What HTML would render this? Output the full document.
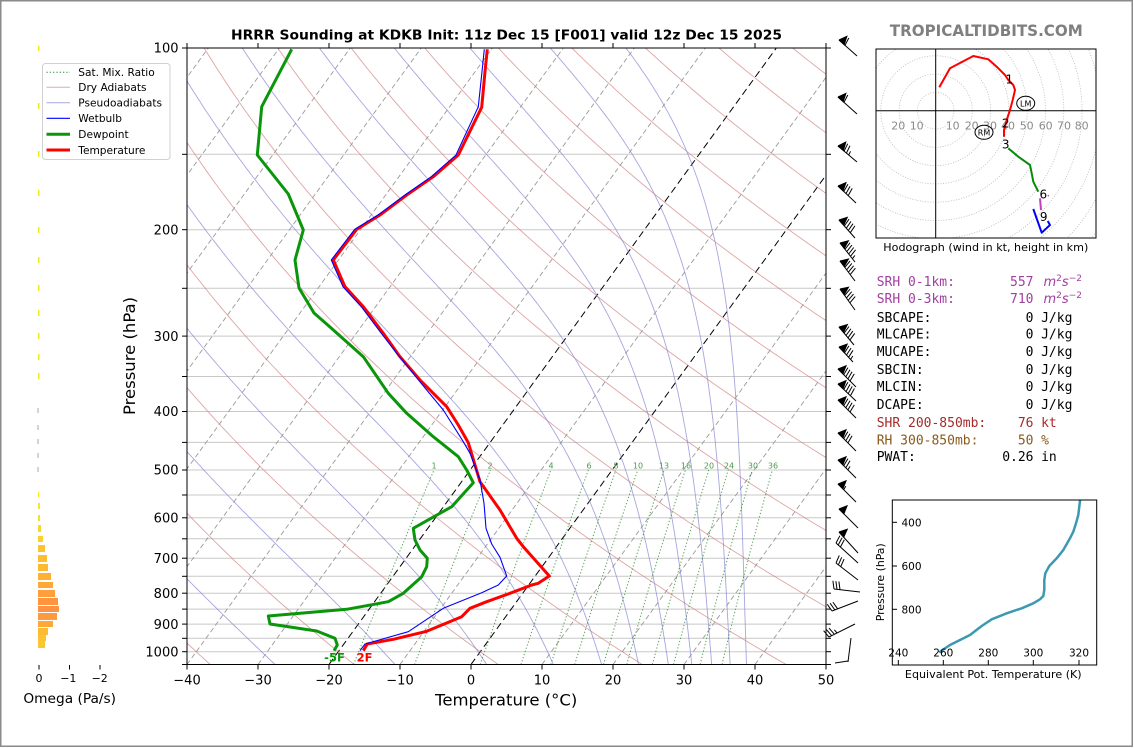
<!DOCTYPE html>
<html><head><meta charset="utf-8">
<style>
html,body{margin:0;padding:0;background:#fff;}
body{width:1134px;height:748px;overflow:hidden;}
svg{display:block;font-family:"DejaVu Sans","Liberation Sans",sans-serif;}
</style></head><body>
<svg id="root" width="1134" height="748" viewBox="0 0 1134 748" xmlns="http://www.w3.org/2000/svg">
<defs>
<clipPath id="cp"><rect x="187" y="48" width="639" height="616.5"/></clipPath>
<clipPath id="hc"><rect x="876" y="49" width="220" height="189"/></clipPath>
<clipPath id="tc"><rect x="892.3" y="500" width="204.4" height="165"/></clipPath>
</defs>
<rect x="0" y="0" width="1134" height="748" fill="#fff"/>
<rect x="0.75" y="0.75" width="1131.5" height="745.5" fill="none" stroke="#8a8a8a" stroke-width="1.5"/>

<!-- Title -->
<text x="506.5" y="39.5" text-anchor="middle" font-weight="bold" font-size="13" textLength="551" lengthAdjust="spacingAndGlyphs">HRRR Sounding at KDKB Init: 11z Dec 15 [F001] valid 12z Dec 15 2025</text>

<!-- Main plot background -->
<g clip-path="url(#cp)">
  <g stroke="#c8c8c8" stroke-width="1">
    <line x1="187" x2="826" y1="154.3" y2="154.3"/>
    <line x1="187" x2="826" y1="229.7" y2="229.7"/>
    <line x1="187" x2="826" y1="288.3" y2="288.3"/>
    <line x1="187" x2="826" y1="336.1" y2="336.1"/>
    <line x1="187" x2="826" y1="376.5" y2="376.5"/>
    <line x1="187" x2="826" y1="411.5" y2="411.5"/>
    <line x1="187" x2="826" y1="442.4" y2="442.4"/>
    <line x1="187" x2="826" y1="470" y2="470"/>
    <line x1="187" x2="826" y1="495" y2="495"/>
    <line x1="187" x2="826" y1="517.8" y2="517.8"/>
    <line x1="187" x2="826" y1="538.8" y2="538.8"/>
    <line x1="187" x2="826" y1="558.2" y2="558.2"/>
    <line x1="187" x2="826" y1="576.3" y2="576.3"/>
    <line x1="187" x2="826" y1="593.2" y2="593.2"/>
    <line x1="187" x2="826" y1="609.1" y2="609.1"/>
    <line x1="187" x2="826" y1="624.1" y2="624.1"/>
    <line x1="187" x2="826" y1="638.3" y2="638.3"/>
    <line x1="187" x2="826" y1="651.7" y2="651.7"/>
  </g>
  <g stroke="#9a9a9a" stroke-width="0.9" stroke-dasharray="5,3">
    <line x1="-239" y1="664.5" x2="208.3" y2="48"/>
    <line x1="-168" y1="664.5" x2="279.3" y2="48"/>
    <line x1="-97" y1="664.5" x2="350.3" y2="48"/>
    <line x1="-26" y1="664.5" x2="421.3" y2="48"/>
    <line x1="45" y1="664.5" x2="492.3" y2="48"/>
    <line x1="116" y1="664.5" x2="563.3" y2="48"/>
    <line x1="187" y1="664.5" x2="634.3" y2="48"/>
    <line x1="258" y1="664.5" x2="705.3" y2="48"/>
    <line x1="400" y1="664.5" x2="847.3" y2="48"/>
    <line x1="542" y1="664.5" x2="989.3" y2="48"/>
    <line x1="613" y1="664.5" x2="1060.3" y2="48"/>
    <line x1="684" y1="664.5" x2="1131.3" y2="48"/>
    <line x1="755" y1="664.5" x2="1202.3" y2="48"/>
  </g>
  <g stroke="#000" stroke-width="1" stroke-dasharray="7,4">
    <line x1="329" y1="664.5" x2="776.3" y2="48"/>
    <line x1="471" y1="664.5" x2="918.3" y2="48"/>
  </g>
  <g id="dry" fill="none" stroke="#d07f7f" stroke-opacity="0.7" stroke-width="0.9"></g>
  <g id="moist" fill="none" stroke="#8080d0" stroke-opacity="0.7" stroke-width="0.9"></g>
  <g id="mix" fill="none" stroke="#2e8b2e" stroke-opacity="0.8" stroke-width="1" stroke-dasharray="1.3,2"></g>

  <!-- Traces -->
  <polyline fill="none" stroke="#0a960a" stroke-width="3" stroke-linejoin="round" points="334,650.7 337.3,645 335,638.3 316.7,631 270,624 268.3,616 346.7,609.3 388.3,601.7 403.3,593.3 421.7,576.7 426.7,566.7 427.3,558.3 420,550 415,540 413.3,528.3 451.7,506.7 473.3,482.7 466.7,470 458.3,456.7 433.3,436.7 406.7,413.3 388.3,393.3 363.3,356.7 330,327 314,313 299,288 295,260 303.3,230 288.3,194 257.3,155 261.7,106.7 291.7,49.3"/>
  <polyline fill="none" stroke="#ff0000" stroke-width="3" stroke-linejoin="round" points="363.3,650.7 367.3,644 393.3,639.3 426.7,631.3 461.7,616.7 470,608.3 486.7,601.7 510,593.3 531.7,585 538.3,583.3 549.3,576 523.3,546.7 516.7,538.3 500,510 491.7,498.3 480,481.7 468.3,442.7 458.3,425 446.7,406.7 433.3,393.3 420,380 400,356.7 383.3,333.3 363.3,306.7 345,286.7 333.3,260 356.7,229.3 380,215 406.7,195 433.3,176.7 458.3,155 481.7,107.3 485,71.7 487.3,49.3"/>
  <polyline fill="none" stroke="#0000ff" stroke-width="1.1" stroke-linejoin="round" points="360,650.7 365,644 408.3,631.7 443.3,608.3 481.7,592.7 498.3,585 506.7,576 500,557.3 491.7,544 486,528.3 484,503.3 480,480 470,453.3 463.3,441.7 443.3,410 426.7,390 396.7,353.3 381.3,333.3 361.3,306.7 343,286.7 331.3,260 354.7,229.3 378,215 405,195 431.3,176.7 456,155 478.3,106.7 482,71.7 484.3,49.3"/>
</g>

<!-- Mixing ratio labels -->
<g font-size="8" fill="#4a9a4a" text-anchor="middle">
  <text x="434" y="468.5">1</text><text x="490" y="468.5">2</text><text x="551" y="468.5">4</text>
  <text x="589" y="468.5">6</text><text x="616" y="468.5">8</text><text x="638" y="468.5">10</text>
  <text x="664" y="468.5">13</text><text x="686" y="468.5">16</text><text x="709" y="468.5">20</text>
  <text x="729" y="468.5">24</text><text x="753" y="468.5">30</text><text x="773" y="468.5">36</text>
</g>

<!-- Surface labels -->
<text x="334.5" y="661.5" text-anchor="middle" font-size="11.5" font-weight="bold" fill="#0a960a">-5F</text>
<text x="364.5" y="661.5" text-anchor="middle" font-size="11.5" font-weight="bold" fill="#ff0000">2F</text>

<!-- Frame -->
<rect x="187" y="48" width="639" height="616.5" fill="none" stroke="#000" stroke-width="1"/>

<!-- Ticks -->
<g stroke="#000" stroke-width="1">
  <line x1="182" x2="187" y1="48" y2="48"/><line x1="182" x2="187" y1="154.3" y2="154.3"/><line x1="182" x2="187" y1="229.7" y2="229.7"/>
  <line x1="182" x2="187" y1="288.3" y2="288.3"/><line x1="182" x2="187" y1="336.1" y2="336.1"/><line x1="182" x2="187" y1="376.5" y2="376.5"/>
  <line x1="182" x2="187" y1="411.5" y2="411.5"/><line x1="182" x2="187" y1="442.4" y2="442.4"/><line x1="182" x2="187" y1="470" y2="470"/>
  <line x1="182" x2="187" y1="495" y2="495"/><line x1="182" x2="187" y1="517.8" y2="517.8"/><line x1="182" x2="187" y1="538.8" y2="538.8"/>
  <line x1="182" x2="187" y1="558.2" y2="558.2"/><line x1="182" x2="187" y1="576.3" y2="576.3"/><line x1="182" x2="187" y1="593.2" y2="593.2"/>
  <line x1="182" x2="187" y1="609.1" y2="609.1"/><line x1="182" x2="187" y1="624.1" y2="624.1"/><line x1="182" x2="187" y1="638.3" y2="638.3"/>
  <line x1="182" x2="187" y1="651.7" y2="651.7"/><line x1="182" x2="187" y1="664.5" y2="664.5"/>
  <line x1="826" x2="831" y1="48" y2="48"/><line x1="826" x2="831" y1="154.3" y2="154.3"/><line x1="826" x2="831" y1="229.7" y2="229.7"/>
  <line x1="826" x2="831" y1="288.3" y2="288.3"/><line x1="826" x2="831" y1="336.1" y2="336.1"/><line x1="826" x2="831" y1="376.5" y2="376.5"/>
  <line x1="826" x2="831" y1="411.5" y2="411.5"/><line x1="826" x2="831" y1="442.4" y2="442.4"/><line x1="826" x2="831" y1="470" y2="470"/>
  <line x1="826" x2="831" y1="495" y2="495"/><line x1="826" x2="831" y1="517.8" y2="517.8"/><line x1="826" x2="831" y1="538.8" y2="538.8"/>
  <line x1="826" x2="831" y1="558.2" y2="558.2"/><line x1="826" x2="831" y1="576.3" y2="576.3"/><line x1="826" x2="831" y1="593.2" y2="593.2"/>
  <line x1="826" x2="831" y1="609.1" y2="609.1"/><line x1="826" x2="831" y1="624.1" y2="624.1"/><line x1="826" x2="831" y1="638.3" y2="638.3"/>
  <line x1="826" x2="831" y1="651.7" y2="651.7"/><line x1="826" x2="831" y1="664.5" y2="664.5"/>
  <line x1="187" x2="187" y1="43" y2="48"/><line x1="258" x2="258" y1="43" y2="48"/><line x1="329" x2="329" y1="43" y2="48"/>
  <line x1="400" x2="400" y1="43" y2="48"/><line x1="471" x2="471" y1="43" y2="48"/><line x1="542" x2="542" y1="43" y2="48"/>
  <line x1="613" x2="613" y1="43" y2="48"/><line x1="684" x2="684" y1="43" y2="48"/><line x1="755" x2="755" y1="43" y2="48"/><line x1="826" x2="826" y1="43" y2="48"/>
  <line x1="187" x2="187" y1="664.5" y2="669.5"/><line x1="258" x2="258" y1="664.5" y2="669.5"/><line x1="329" x2="329" y1="664.5" y2="669.5"/>
  <line x1="400" x2="400" y1="664.5" y2="669.5"/><line x1="471" x2="471" y1="664.5" y2="669.5"/><line x1="542" x2="542" y1="664.5" y2="669.5"/>
  <line x1="613" x2="613" y1="664.5" y2="669.5"/><line x1="684" x2="684" y1="664.5" y2="669.5"/><line x1="755" x2="755" y1="664.5" y2="669.5"/><line x1="826" x2="826" y1="664.5" y2="669.5"/>
</g>

<!-- Y tick labels -->
<g font-size="13" text-anchor="end" fill="#000">
  <text x="178.5" y="52.7">100</text><text x="178.5" y="234.4">200</text><text x="178.5" y="340.8">300</text>
  <text x="178.5" y="416.2">400</text><text x="178.5" y="474.7">500</text><text x="178.5" y="522.5">600</text>
  <text x="178.5" y="562.9">700</text><text x="178.5" y="597.9">800</text><text x="178.5" y="628.8">900</text>
  <text x="178.5" y="656.4">1000</text>
</g>
<!-- X tick labels -->
<g font-size="13" text-anchor="middle" fill="#000">
  <text x="187" y="684.5">−40</text><text x="258" y="684.5">−30</text><text x="329" y="684.5">−20</text>
  <text x="400" y="684.5">−10</text><text x="471" y="684.5">0</text><text x="542" y="684.5">10</text>
  <text x="613" y="684.5">20</text><text x="684" y="684.5">30</text><text x="755" y="684.5">40</text><text x="826" y="684.5">50</text>
</g>
<text x="506.2" y="705.5" text-anchor="middle" font-size="16" textLength="142.3" lengthAdjust="spacingAndGlyphs">Temperature (°C)</text>
<text transform="translate(135,356) rotate(-90)" text-anchor="middle" font-size="16" textLength="118" lengthAdjust="spacingAndGlyphs">Pressure (hPa)</text>

<!-- Wind barbs -->
<g id="barbs" stroke="#000" stroke-width="1" fill="none"></g>

<!-- Omega panel -->
<g fill="#f2ea1e">
  <rect x="38" y="46" width="1.5" height="5"/><rect x="38" y="103" width="1.5" height="6"/><rect x="38" y="151" width="1.5" height="6"/>
  <rect x="38" y="190" width="1.5" height="6"/><rect x="38" y="227" width="1.5" height="6"/><rect x="38" y="257" width="1.5" height="6"/>
  <rect x="38" y="285" width="1.5" height="6"/><rect x="38" y="310" width="1.5" height="6"/><rect x="38" y="333" width="1.5" height="6"/>
  <rect x="38" y="354" width="1.5" height="6"/><rect x="38" y="373" width="1.5" height="6"/>
</g>
<g fill="#a8a8a8">
  <rect x="37.5" y="408" width="1" height="5"/><rect x="37.5" y="425" width="1" height="5"/><rect x="37.5" y="439" width="1" height="5"/>
  <rect x="37.5" y="453" width="1" height="5"/><rect x="37.5" y="467" width="1" height="5"/>
</g>
<rect x="38" y="492" width="1.2" height="5" fill="#f5ef20"/>
<rect x="38" y="503" width="2" height="6" fill="#f5e82a"/>
<rect x="38" y="515" width="2" height="6" fill="#f6e22c"/>
<rect x="38" y="525" width="3" height="7" fill="#f8d830"/>
<rect x="38" y="536" width="5" height="6" fill="#fbcf30"/>
<rect x="38" y="545" width="7" height="7" fill="#fcc52f"/>
<rect x="38" y="555" width="9" height="7" fill="#fcbf30"/>
<rect x="38" y="564" width="10" height="7" fill="#fdb934"/>
<rect x="38" y="573" width="13" height="7" fill="#fdb034"/>
<rect x="38" y="582" width="15" height="6" fill="#fea838"/>
<rect x="38" y="590" width="17" height="7" fill="#fe9f3c"/>
<rect x="38" y="598" width="20" height="7" fill="#fe9440"/>
<rect x="38" y="606" width="21" height="6" fill="#fe9142"/>
<rect x="38" y="613" width="19" height="7" fill="#fe9a3e"/>
<rect x="38" y="621" width="15" height="6" fill="#fea838"/>
<rect x="38" y="628" width="10" height="7" fill="#fdba33"/>
<rect x="38" y="635" width="8" height="6" fill="#fcc230"/>
<rect x="38" y="641" width="7" height="7" fill="#fcc72f"/>
<g stroke="#000" stroke-width="1">
  <line x1="39" x2="39" y1="665" y2="669.5"/><line x1="69.5" x2="69.5" y1="665" y2="669.5"/><line x1="100" x2="100" y1="665" y2="669.5"/>
</g>
<g font-size="11" text-anchor="middle">
  <text x="39" y="682">0</text><text x="68.3" y="682">−1</text><text x="99.7" y="682">−2</text>
</g>
<text x="69.7" y="703" text-anchor="middle" font-size="13" textLength="92.7" lengthAdjust="spacingAndGlyphs">Omega (Pa/s)</text>

<!-- Legend -->
<rect x="42.5" y="63.5" width="127.5" height="96" rx="3" fill="#fff" fill-opacity="0.85" stroke="#d0d0d0" stroke-width="1"/>
<line x1="46.5" x2="70" y1="72.3" y2="72.3" stroke="#2e8b2e" stroke-width="1" stroke-dasharray="1.3,2"/>
<line x1="46.5" x2="70" y1="87.3" y2="87.3" stroke="#e0aaaa" stroke-width="1"/>
<line x1="46.5" x2="70" y1="102.7" y2="102.7" stroke="#aaaadd" stroke-width="1"/>
<line x1="46.5" x2="70" y1="118.3" y2="118.3" stroke="#0000ff" stroke-width="1.2"/>
<line x1="46.5" x2="70" y1="134.3" y2="134.3" stroke="#0a960a" stroke-width="3"/>
<line x1="46.5" x2="70" y1="150" y2="150" stroke="#ff0000" stroke-width="3"/>
<g font-size="10.6" fill="#000">
  <text x="78.3" y="76.2">Sat. Mix. Ratio</text>
  <text x="78.3" y="91.2">Dry Adiabats</text>
  <text x="78.3" y="106.6">Pseudoadiabats</text>
  <text x="78.3" y="122.2">Wetbulb</text>
  <text x="78.3" y="138.2">Dewpoint</text>
  <text x="78.3" y="153.9">Temperature</text>
</g>

<!-- Brand -->
<text x="986.3" y="36" text-anchor="middle" font-size="16" font-weight="bold" fill="#7f7f7f" textLength="193" lengthAdjust="spacingAndGlyphs">TROPICALTIDBITS.COM</text>

<!-- Hodograph -->
<g clip-path="url(#hc)">
  <g fill="none" stroke="#b8b8b8" stroke-width="0.8" stroke-dasharray="1,1.6">
    <circle cx="935.7" cy="110.7" r="18.3"/><circle cx="935.7" cy="110.7" r="36.6"/><circle cx="935.7" cy="110.7" r="54.9"/>
    <circle cx="935.7" cy="110.7" r="73.2"/><circle cx="935.7" cy="110.7" r="91.5"/><circle cx="935.7" cy="110.7" r="109.8"/>
    <circle cx="935.7" cy="110.7" r="128.1"/><circle cx="935.7" cy="110.7" r="146.4"/><circle cx="935.7" cy="110.7" r="164.7"/>
    <circle cx="935.7" cy="110.7" r="183"/><circle cx="935.7" cy="110.7" r="201.3"/><circle cx="935.7" cy="110.7" r="219.6"/>
  </g>
  <line x1="935.7" x2="935.7" y1="49" y2="238" stroke="#000" stroke-width="1"/>
  <line x1="876" x2="1096" y1="110.7" y2="110.7" stroke="#000" stroke-width="1"/>
  <g font-size="11" fill="#8a8a8a" text-anchor="middle">
    <text x="898.3" y="129.5">20</text><text x="916.7" y="129.5">10</text>
    <text x="952.7" y="129.5">10</text><text x="971.7" y="129.5">20</text><text x="990" y="129.5">30</text>
    <text x="1008" y="129.5">40</text><text x="1026.7" y="129.5">50</text><text x="1045.7" y="129.5">60</text>
    <text x="1064" y="129.5">70</text><text x="1081.7" y="129.5">80</text>
  </g>
  <polyline fill="none" stroke="#ff0000" stroke-width="2" stroke-linejoin="round" points="939.3,87.3 950,68.3 973.3,56 988.3,59.3 996.7,66.7 1005,75 1008.3,80 1013.3,85 1015,90 1012.7,100 1010,110 1006.7,120 1004,130 1004,136.7"/>
  <polyline fill="none" stroke="#0a8a0a" stroke-width="2" stroke-linejoin="round" points="1008.3,148.3 1018.3,156.7 1030,165 1031.7,173.3 1033.3,181.7 1038.3,191.7"/>
  <polyline fill="none" stroke="#c040c0" stroke-width="2" points="1040,198.3 1041,210"/>
  <circle cx="1048.3" cy="195.7" r="0.8" fill="#c040c0"/>
  <polyline fill="none" stroke="#0000ff" stroke-width="2" stroke-linejoin="round" points="1033.3,209 1041.7,232.7 1050,225 1047.7,221"/>
  <g font-size="12" fill="#000" text-anchor="middle">
    <text x="1009.3" y="83.3">1</text><text x="1005.7" y="127.6">2</text><text x="1005.7" y="148.3">3</text>
    <text x="1043.3" y="198.6">6</text><text x="1043.7" y="221">9</text>
  </g>
  <ellipse cx="984" cy="132.3" rx="9" ry="7" fill="none" stroke="#000" stroke-width="1"/>
  <text x="984" y="135.3" text-anchor="middle" font-size="8">RM</text>
  <ellipse cx="1025.7" cy="103.3" rx="9" ry="7" fill="none" stroke="#000" stroke-width="1"/>
  <text x="1025.7" y="106.3" text-anchor="middle" font-size="8">LM</text>
</g>
<rect x="876" y="49" width="220" height="189" fill="none" stroke="#000" stroke-width="1"/>
<text x="985.8" y="251" text-anchor="middle" font-size="11" textLength="205" lengthAdjust="spacingAndGlyphs">Hodograph (wind in kt, height in km)</text>

<!-- Text panel -->
<g font-family="DejaVu Sans Mono, Liberation Mono, monospace" font-size="13">
  <g fill="#a040a0">
    <text x="876.7" y="286.2">SRH 0-1km:</text><text x="1033.5" y="286.2" text-anchor="end">557</text>
    <text x="1043.5" y="286.2" font-family="DejaVu Sans, sans-serif"><tspan font-style="italic">m</tspan><tspan font-size="9" dy="-5">2</tspan><tspan font-style="italic" dy="5">s</tspan><tspan font-size="9" dy="-5">−2</tspan></text>
    <text x="876.7" y="302.8">SRH 0-3km:</text><text x="1033.5" y="302.8" text-anchor="end">710</text>
    <text x="1043.5" y="302.8" font-family="DejaVu Sans, sans-serif"><tspan font-style="italic">m</tspan><tspan font-size="9" dy="-5">2</tspan><tspan font-style="italic" dy="5">s</tspan><tspan font-size="9" dy="-5">−2</tspan></text>
  </g>
  <g fill="#000">
    <text x="876.7" y="321.8">SBCAPE:</text><text x="1033.5" y="321.8" text-anchor="end">0</text><text x="1041.1" y="321.8">J/kg</text>
    <text x="876.7" y="338.5">MLCAPE:</text><text x="1033.5" y="338.5" text-anchor="end">0</text><text x="1041.1" y="338.5">J/kg</text>
    <text x="876.7" y="356.2">MUCAPE:</text><text x="1033.5" y="356.2" text-anchor="end">0</text><text x="1041.1" y="356.2">J/kg</text>
    <text x="876.7" y="373.8">SBCIN:</text><text x="1033.5" y="373.8" text-anchor="end">0</text><text x="1041.1" y="373.8">J/kg</text>
    <text x="876.7" y="391.2">MLCIN:</text><text x="1033.5" y="391.2" text-anchor="end">0</text><text x="1041.1" y="391.2">J/kg</text>
    <text x="876.7" y="408.8">DCAPE:</text><text x="1033.5" y="408.8" text-anchor="end">0</text><text x="1041.1" y="408.8">J/kg</text>
  </g>
  <g fill="#a52a2a"><text x="876.7" y="426.8">SHR 200-850mb:</text><text x="1033.5" y="426.8" text-anchor="end">76</text><text x="1041.1" y="426.8">kt</text></g>
  <g fill="#8b5a1a"><text x="876.7" y="444.5">RH 300-850mb:</text><text x="1033.5" y="444.5" text-anchor="end">50</text><text x="1041.1" y="444.5">%</text></g>
  <g fill="#000"><text x="876.7" y="461.2">PWAT:</text><text x="1033.5" y="461.2" text-anchor="end">0.26</text><text x="1041.1" y="461.2">in</text></g>
</g>

<!-- Theta-e panel -->
<g clip-path="url(#tc)">
  <polyline fill="none" stroke="#3b9ab2" stroke-width="2.5" stroke-linejoin="round" stroke-linecap="round" points="1080,500.7 1078.3,515 1076,523.3 1073.3,531.7 1070,538.3 1063.3,550 1056.7,558.3 1049.3,566 1045.3,573.3 1044.3,580 1044.3,590 1043.3,596 1040,599.3 1033.3,603.3 1021.7,608.3 1006.7,613.3 991.7,619.3 981.7,626 970,635 960,640 950,645 940,651.7"/>
</g>
<rect x="892.3" y="500" width="204.4" height="165" fill="none" stroke="#000" stroke-width="1"/>
<g stroke="#000" stroke-width="1">
  <line x1="892.3" x2="897" y1="522.3" y2="522.3"/><line x1="892.3" x2="897" y1="566" y2="566"/><line x1="892.3" x2="897" y1="609.3" y2="609.3"/>
  <line x1="898.3" x2="898.3" y1="660" y2="665"/><line x1="943.3" x2="943.3" y1="660" y2="665"/><line x1="988.3" x2="988.3" y1="660" y2="665"/>
  <line x1="1033.3" x2="1033.3" y1="660" y2="665"/><line x1="1079" x2="1079" y1="660" y2="665"/>
</g>
<g font-size="10.5" fill="#000">
  <text x="901.5" y="526.3">400</text><text x="901.5" y="570">600</text><text x="901.5" y="613.3">800</text>
</g>
<g font-size="10.5" fill="#000" text-anchor="middle">
  <text x="898.3" y="656.5">240</text><text x="943.3" y="656.5">260</text><text x="988.3" y="656.5">280</text>
  <text x="1033.3" y="656.5">300</text><text x="1079" y="656.5">320</text>
</g>
<text x="993.3" y="678" text-anchor="middle" font-size="10.5" textLength="176.7" lengthAdjust="spacingAndGlyphs">Equivalent Pot. Temperature (K)</text>
<text transform="translate(884,582.3) rotate(-90)" text-anchor="middle" font-size="10.5" textLength="78" lengthAdjust="spacingAndGlyphs">Pressure (hPa)</text>
</svg>

<script>
(function(){
var NS="http://www.w3.org/2000/svg";
function Y(p){return 48+262.2*Math.log(p/100);}
function X(T,p){return 471+7.1*T+0.7256*(664.5-Y(p));}
function path(pts,attrs,parent){
  var d='';
  for(var i=0;i<pts.length;i++){d+=(i?'L':'M')+pts[i][0].toFixed(1)+','+pts[i][1].toFixed(1);}
  var el=document.createElementNS(NS,'path');
  el.setAttribute('d',d);el.setAttribute('fill','none');
  for(var k in attrs)el.setAttribute(k,attrs[k]);
  parent.appendChild(el);return el;
}
var gd=document.getElementById('dry'),gm=document.getElementById('moist'),gw=document.getElementById('mix');
for(var th=233.15;th<=493.16;th+=20){
  var pts=[];
  for(var i=0;i<=60;i++){var p=1050*Math.pow(100/1050,i/60);var T=th*Math.pow(p/1000,0.2857)-273.15;pts.push([X(T,p),Y(p)]);}
  path(pts,{},gd);
}
function es(Tc){return 6.112*Math.exp(17.67*Tc/(Tc+243.5));}
function f(p,T){var e=es(T-273.15);var rs=0.622*e/(p-e);return (287.04*T+2.501e6*rs)/(1005.7+2.501e6*2.501e6*rs*0.622/(287.04*T*T));}
[-27.6,-10.7,2.2,11.6,18.4,23.6,27.8,31.1,33.9,36.5,38.8].forEach(function(T0){
  var T=T0+273.15,p=1050,n=300,dl=Math.log(100/1050)/n;var pts=[[X(T0,p),Y(p)]];
  for(var i=0;i<n;i++){var k1=f(p,T);var pm=p*Math.exp(dl/2);var k2=f(pm,T+k1*dl/2);T+=k2*dl;p=p*Math.exp(dl);pts.push([X(T-273.15,p),Y(p)]);}
  path(pts,{},gm);
});
[1,2,4,6,8,10,13,16,20,24,30,36].forEach(function(w){
  var pts=[];
  for(var i=0;i<=20;i++){var p=1050*Math.pow(500/1050,i/20);var e=w*p/(622+w);var l=Math.log(e/6.112);var Td=243.5*l/(17.67-l);pts.push([X(Td,p),Y(p)]);}
  path(pts,{},gw);
});
var gb=document.getElementById('barbs');
function line(x1,y1,x2,y2){path([[x1,y1],[x2,y2]],{},gb);}
function barb(bx,by,tx,ty,nf,nb,nh){
  var dx=tx-bx,dy=ty-by,L=Math.hypot(dx,dy),ux=dx/L,uy=dy/L,px=-uy,py=ux;
  line(bx,by,tx,ty);var pos=0;
  for(var i=0;i<nf;i++){
    var a=[tx-ux*pos,ty-uy*pos],b=[tx-ux*(pos+7),ty-uy*(pos+7)],c=[tx-ux*(pos+3.5)+px*8,ty-uy*(pos+3.5)+py*8];
    path([a,b,c,a],{fill:'#000'},gb);pos+=8;
  }
  for(var j=0;j<nb;j++){var sx=tx-ux*pos,sy=ty-uy*pos;line(sx,sy,sx+px*8+ux*2,sy+py*8+uy*2);pos+=3;}
  for(var h=0;h<nh;h++){var sx2=tx-ux*pos,sy2=ty-uy*pos;line(sx2,sy2,sx2+px*4+ux*1,sy2+py*4+uy*1);pos+=3;}
}
var B=[
 [857,56,839,40,1,1,0],[857,114,838,97,1,1,0],[857,162,838,146,1,2,1],[856,203,838,186,1,3,0],
 [855,238,839,220,1,4,0],[855,262,840,243,1,4,1],[855,281,840,261,1,4,0],[855,310,840,289,1,4,0],
 [854,345,839,327,1,4,0],[853,362,839,347,1,3,1],[856,387,838,369,1,4,0],[856,401,838,384,1,4,0],
 [856,418,838,400,1,4,0],[856,451,838,433,1,3,0],[856,478,838,460,1,2,1],[856,502,838,484,1,0,1],
 [858,528,839,509,1,0,0],[858,553,839,532,1,0,0],
 [858,563,836,543,0,3,0],[858,580,836,563,0,3,0],[860,592,834,589,0,3,0],[858,601,832,611,0,3,0],[855,624,829,637,0,3,1]
];
B.forEach(function(b){barb.apply(null,b);});
line(848,662,851,638);line(835,663,848,661);
})();
</script>
</body></html>
